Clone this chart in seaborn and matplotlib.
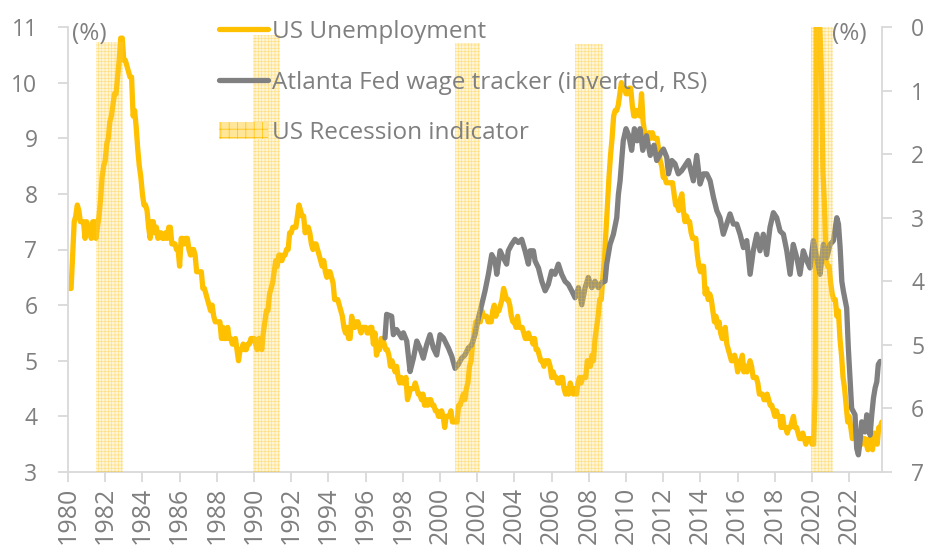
import numpy as np
import matplotlib
matplotlib.use("Agg")
import matplotlib.pyplot as plt
from matplotlib.lines import Line2D
from matplotlib.patches import Patch
import seaborn as sns

# US unemployment rate, monthly, Jan 1980 - Oct 2023 (%)
unemp = [
    6.3, 6.3, 6.3, 6.9, 7.5, 7.6, 7.8, 7.7, 7.5, 7.5, 7.5, 7.2,   # 1980
    7.5, 7.4, 7.4, 7.2, 7.5, 7.5, 7.2, 7.4, 7.6, 7.9, 8.3, 8.5,   # 1981
    8.6, 8.9, 9.0, 9.3, 9.4, 9.6, 9.8, 9.8, 10.1, 10.4, 10.8, 10.8,  # 1982
    10.4, 10.4, 10.3, 10.2, 10.1, 10.1, 9.4, 9.5, 9.2, 8.8, 8.5, 8.3,  # 1983
    8.0, 7.8, 7.8, 7.7, 7.4, 7.2, 7.5, 7.5, 7.3, 7.4, 7.2, 7.3,   # 1984
    7.3, 7.2, 7.2, 7.3, 7.2, 7.4, 7.4, 7.1, 7.1, 7.1, 7.0, 7.0,   # 1985
    6.7, 7.2, 7.2, 7.1, 7.2, 7.2, 7.0, 6.9, 7.0, 7.0, 6.9, 6.6,   # 1986
    6.6, 6.6, 6.6, 6.3, 6.3, 6.2, 6.1, 6.0, 5.9, 6.0, 5.8, 5.7,   # 1987
    5.7, 5.7, 5.7, 5.4, 5.6, 5.4, 5.4, 5.6, 5.4, 5.4, 5.3, 5.3,   # 1988
    5.4, 5.2, 5.0, 5.2, 5.2, 5.3, 5.2, 5.2, 5.3, 5.3, 5.4, 5.4,   # 1989
    5.4, 5.3, 5.2, 5.4, 5.4, 5.2, 5.5, 5.7, 5.9, 5.9, 6.2, 6.3,   # 1990
    6.4, 6.6, 6.8, 6.7, 6.9, 6.9, 6.8, 6.9, 6.9, 7.0, 7.0, 7.3,   # 1991
    7.3, 7.4, 7.4, 7.4, 7.6, 7.8, 7.7, 7.6, 7.6, 7.3, 7.4, 7.4,   # 1992
    7.3, 7.1, 7.0, 7.1, 7.1, 7.0, 6.9, 6.8, 6.7, 6.8, 6.6, 6.5,   # 1993
    6.6, 6.6, 6.5, 6.4, 6.1, 6.1, 6.1, 6.0, 5.9, 5.8, 5.6, 5.5,   # 1994
    5.6, 5.4, 5.4, 5.8, 5.6, 5.6, 5.7, 5.7, 5.6, 5.5, 5.6, 5.6,   # 1995
    5.6, 5.5, 5.5, 5.6, 5.6, 5.3, 5.5, 5.1, 5.2, 5.2, 5.4, 5.4,   # 1996
    5.3, 5.2, 5.2, 5.1, 4.9, 5.0, 4.9, 4.8, 4.9, 4.7, 4.6, 4.7,   # 1997
    4.6, 4.6, 4.7, 4.3, 4.4, 4.5, 4.5, 4.5, 4.6, 4.5, 4.4, 4.4,   # 1998
    4.3, 4.4, 4.2, 4.3, 4.2, 4.3, 4.3, 4.2, 4.2, 4.1, 4.1, 4.0,   # 1999
    4.0, 4.1, 4.0, 3.8, 4.0, 4.0, 4.0, 4.1, 3.9, 3.9, 3.9, 3.9,   # 2000
    4.2, 4.2, 4.3, 4.4, 4.3, 4.5, 4.6, 4.9, 5.0, 5.3, 5.5, 5.7,   # 2001
    5.7, 5.7, 5.7, 5.9, 5.8, 5.8, 5.8, 5.7, 5.7, 5.7, 5.9, 6.0,   # 2002
    5.8, 5.9, 5.9, 6.0, 6.1, 6.3, 6.2, 6.1, 6.1, 6.0, 5.8, 5.7,   # 2003
    5.7, 5.6, 5.8, 5.6, 5.6, 5.6, 5.5, 5.4, 5.4, 5.5, 5.4, 5.4,   # 2004
    5.3, 5.4, 5.2, 5.2, 5.1, 5.0, 5.0, 4.9, 5.0, 5.0, 5.0, 4.9,   # 2005
    4.7, 4.8, 4.7, 4.7, 4.6, 4.6, 4.7, 4.7, 4.5, 4.4, 4.5, 4.4,   # 2006
    4.6, 4.5, 4.4, 4.5, 4.4, 4.6, 4.7, 4.6, 4.7, 4.7, 4.7, 5.0,   # 2007
    5.0, 4.9, 5.1, 5.0, 5.4, 5.6, 5.8, 6.1, 6.1, 6.5, 6.8, 7.3,   # 2008
    7.8, 8.3, 8.7, 9.0, 9.4, 9.5, 9.5, 9.6, 9.8, 10.0, 9.9, 9.9,  # 2009
    9.8, 9.8, 9.9, 9.9, 9.6, 9.4, 9.4, 9.5, 9.5, 9.4, 9.8, 9.3,   # 2010
    9.1, 9.0, 9.0, 9.1, 9.0, 9.1, 9.0, 9.0, 9.0, 8.8, 8.6, 8.5,   # 2011
    8.3, 8.3, 8.2, 8.2, 8.2, 8.2, 8.2, 8.0, 7.8, 7.8, 7.7, 7.9,   # 2012
    8.0, 7.7, 7.5, 7.6, 7.5, 7.5, 7.3, 7.2, 7.2, 7.2, 6.9, 6.7,   # 2013
    6.6, 6.7, 6.7, 6.2, 6.3, 6.1, 6.2, 6.1, 5.9, 5.7, 5.8, 5.6,   # 2014
    5.7, 5.5, 5.4, 5.4, 5.6, 5.3, 5.2, 5.1, 5.0, 5.0, 5.1, 5.0,   # 2015
    4.8, 4.9, 5.0, 5.1, 4.8, 4.9, 4.8, 4.9, 5.0, 4.9, 4.7, 4.7,   # 2016
    4.7, 4.6, 4.4, 4.4, 4.4, 4.3, 4.3, 4.4, 4.3, 4.2, 4.2, 4.1,   # 2017
    4.0, 4.1, 4.0, 4.0, 3.8, 4.0, 3.8, 3.8, 3.7, 3.8, 3.8, 3.9,   # 2018
    4.0, 3.8, 3.8, 3.7, 3.6, 3.6, 3.7, 3.6, 3.5, 3.6, 3.6, 3.6,   # 2019
    3.5, 3.5, 4.4, 14.7, 13.2, 11.0, 10.2, 8.4, 7.8, 6.8, 6.7, 6.7,  # 2020
    6.4, 6.2, 6.1, 6.1, 5.8, 5.9, 5.4, 5.1, 4.7, 4.5, 4.2, 3.9,   # 2021
    4.0, 3.8, 3.6, 3.7, 3.6, 3.6, 3.5, 3.6, 3.5, 3.6, 3.6, 3.5,   # 2022
    3.4, 3.6, 3.5, 3.4, 3.7, 3.6, 3.5, 3.8, 3.8, 3.9,             # 2023
]
unemp_x = 1980 + np.arange(len(unemp)) / 12

# Atlanta Fed wage growth tracker (%)
wage_x = [
    1997.04, 1997.13, 1997.40, 1997.49, 1997.67, 1997.94, 1998.03, 1998.21, 1998.39,
    1998.57, 1998.75, 1998.92, 1999.10, 1999.28, 1999.46, 1999.64, 1999.82, 2000.00,
    2000.18, 2000.45, 2000.63, 2000.81, 2000.98, 2001.16, 2001.34, 2001.52, 2001.70,
    2001.88, 2002.06, 2002.24, 2002.42, 2002.60, 2002.78, 2002.96, 2003.05, 2003.23,
    2003.40, 2003.58, 2003.67, 2003.85, 2004.03, 2004.21, 2004.39, 2004.57, 2004.75,
    2004.84, 2005.02, 2005.11, 2005.29, 2005.47, 2005.65, 2005.82, 2006.00, 2006.18,
    2006.36, 2006.54, 2006.72, 2006.90, 2007.08, 2007.26, 2007.44, 2007.62, 2007.80,
    2007.97, 2008.16, 2008.33, 2008.51, 2008.69, 2008.87, 2008.96, 2009.14, 2009.32,
    2009.50, 2009.59, 2009.68, 2009.85, 2010.00, 2010.15, 2010.30, 2010.45, 2010.60,
    2010.75, 2010.90, 2011.10, 2011.30, 2011.50, 2011.65, 2011.83, 2012.01, 2012.19,
    2012.28, 2012.46, 2012.63, 2012.81, 2012.99, 2013.17, 2013.35, 2013.53, 2013.62,
    2013.80, 2013.98, 2014.16, 2014.34, 2014.52, 2014.70, 2014.88, 2015.05, 2015.23,
    2015.41, 2015.59, 2015.77, 2015.95, 2016.13, 2016.31, 2016.49, 2016.67, 2016.84,
    2017.03, 2017.20, 2017.38, 2017.56, 2017.74, 2017.92, 2018.10, 2018.28, 2018.46,
    2018.64, 2018.82, 2018.99, 2019.18, 2019.35, 2019.53, 2019.72, 2019.89, 2020.07,
    2020.25, 2020.43, 2020.61, 2020.79, 2020.97, 2021.15, 2021.33, 2021.42, 2021.51,
    2021.60, 2021.68, 2021.86, 2021.95, 2022.13, 2022.31, 2022.40, 2022.49, 2022.58,
    2022.67, 2022.85, 2022.94, 2023.03, 2023.12, 2023.21, 2023.30, 2023.39, 2023.48,
    2023.56, 2023.66,
]
wage_v = [
    4.89, 4.52, 4.55, 4.84, 4.76, 4.89, 4.81, 4.94, 5.42,
    5.21, 4.94, 5.05, 5.21, 5.00, 4.84, 5.05, 5.16, 4.84,
    4.89, 5.05, 5.18, 5.37, 5.31, 5.21, 5.16, 5.05, 5.00,
    4.84, 4.58, 4.37, 4.15, 3.89, 3.58, 3.68, 3.89, 3.52,
    3.63, 3.73, 3.52, 3.42, 3.34, 3.39, 3.34, 3.52, 3.73,
    3.52, 3.52, 3.68, 3.79, 4.00, 4.15, 4.05, 3.84, 3.89,
    3.73, 3.89, 4.00, 4.05, 4.15, 4.26, 4.10, 4.37, 4.10,
    3.94, 4.10, 4.00, 4.10, 4.02, 4.00, 3.73, 3.42, 3.26,
    3.00, 2.63, 2.42, 1.79, 1.60, 1.71, 1.94, 1.60, 1.79,
    1.60, 1.94, 1.71, 2.02, 1.86, 2.10, 2.00, 1.92, 2.05,
    2.31, 2.10, 2.15, 2.31, 2.26, 2.18, 2.10, 2.31, 2.42,
    2.02, 2.47, 2.31, 2.31, 2.42, 2.68, 2.89, 3.00, 3.26,
    3.10, 2.94, 3.10, 3.10, 3.26, 3.47, 3.36, 3.89, 3.52,
    3.26, 3.52, 3.26, 3.58, 3.15, 2.92, 3.00, 3.21, 3.26,
    3.52, 3.89, 3.42, 3.63, 3.89, 3.52, 3.68, 3.79, 3.36,
    3.63, 3.89, 3.42, 3.63, 3.42, 3.36, 3.00, 3.10, 3.47,
    4.00, 4.15, 4.42, 5.05, 6.00, 6.10, 6.63, 6.73, 6.52,
    6.21, 6.37, 6.10, 6.16, 6.42, 6.10, 5.84, 5.68, 5.58,
    5.31, 5.26,
]

# US recession indicator (shaded periods, height on a 0-1 scale)
rec_start = [1981.50, 1989.95, 2000.80, 2007.26, 2019.95]
rec_end = [1982.96, 1991.40, 2002.15, 2008.76, 2021.13]
rec_top = [0.966, 0.982, 0.964, 0.962, 1.0]

year_ticks = list(range(1980, 2023, 2))

YELLOW = "#FFC000"
GREY = "#808080"
TXT = "#7F7F7F"
AXC = "#D9D9D9"
FS = 16.5
LFS = 17.5

sns.set_theme(style="white")
plt.rcParams["font.family"] = ["Open Sans", "DejaVu Sans"]
plt.rcParams["hatch.linewidth"] = 0.5

fig = plt.figure(figsize=(9.28, 5.49), dpi=100)
ax = fig.add_axes([68 / 928, 77 / 549, 814 / 928, 445 / 549])

sns.lineplot(x=unemp_x, y=unemp, ax=ax, color=YELLOW, lw=3.8, zorder=2)
ax.set_xlim(1980, 2023.76)
ax.set_ylim(3, 11)
ax.set_yticks(range(3, 12))
ax.set_xticks(year_ticks)
ax.set_xticklabels([str(y) for y in year_ticks], rotation=90)

ax2 = ax.twinx()
sns.lineplot(x=wage_x, y=wage_v, ax=ax2, color=GREY, lw=3.8, zorder=2)
ax2.set_ylim(7, 0)
ax2.set_yticks(range(0, 8))

ax3 = ax.twinx()
ax3.set_ylim(0, 1)
ax3.axis("off")
widths = [e - s for s, e in zip(rec_start, rec_end)]
ax3.bar(rec_start, rec_top, width=widths, align="edge", color="#FFD966",
        alpha=0.26, linewidth=0, zorder=3)
ax3.bar(rec_start, rec_top, width=widths, align="edge", facecolor="none",
        edgecolor=YELLOW, hatch="+++++", linewidth=0, alpha=0.38, zorder=3)

for a in (ax, ax2):
    for s in a.spines.values():
        s.set_visible(False)
    a.set_xlabel("")
    a.set_ylabel("")
    a.grid(False)
ax.spines["left"].set_visible(True)
ax.spines["bottom"].set_visible(True)
ax2.spines["right"].set_visible(True)
for sp in (ax.spines["left"], ax.spines["bottom"], ax2.spines["right"]):
    sp.set_color(AXC)
    sp.set_linewidth(1.3)

ax.tick_params(axis="y", which="major", left=True, length=7, width=1.3,
               color=AXC, pad=15, labelsize=FS, labelcolor=TXT)
ax.tick_params(axis="x", which="major", bottom=True, length=7, width=1.3,
               color=AXC, pad=3.5, labelsize=18, labelcolor=TXT)
ax2.tick_params(axis="y", which="major", right=True, length=7, width=1.3,
                color=AXC, pad=14, labelsize=FS, labelcolor=TXT)

fig.text(72 / 928, 1 - 34 / 549, "(%)", fontsize=LFS, color=TXT, va="center")
fig.text(832 / 928, 1 - 34 / 549, "(%)", fontsize=LFS, color=TXT, va="center")

handles = [
    Line2D([], [], color=YELLOW, lw=3.8),
    Line2D([], [], color=GREY, lw=3.8),
    Patch(facecolor="#FFE699", edgecolor=YELLOW, hatch="++", linewidth=0),
]
labels = ["US Unemployment", "Atlanta Fed wage tracker (inverted, RS)",
          "US Recession indicator"]
fig.legend(handles, labels, loc="upper left",
           bbox_to_anchor=(219 / 928, 1 - 20 / 549), frameon=False,
           fontsize=LFS, labelcolor=TXT, handlelength=2.0, handletextpad=0.17,
           labelspacing=1.1, borderpad=0, borderaxespad=0)

fig.savefig("out.png", dpi=100)
